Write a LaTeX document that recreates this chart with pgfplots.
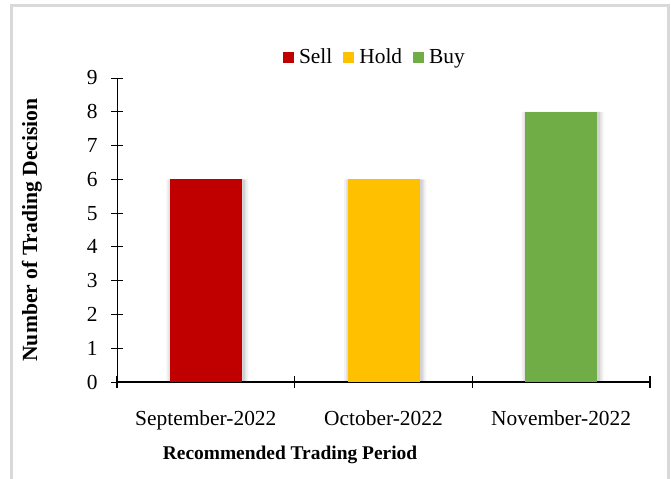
\documentclass[border=0pt]{standalone}
\usepackage{pgfplots}
\pgfplotsset{compat=1.18}
\usepackage{fontspec}
\setmainfont{Liberation Serif}
\definecolor{sellc}{HTML}{C00000}
\definecolor{holdc}{HTML}{FFC000}
\definecolor{buyc}{HTML}{70AD47}
\definecolor{framec}{HTML}{D9D9D9}
\begin{document}
\begin{tikzpicture}
\useasboundingbox (0,0) rectangle (671bp,-479bp);
\fill[white] (0,0) rectangle (671bp,-479bp);
\draw[framec, line width=3bp] (11bp,-479bp) -- (11bp,-5bp) -- (668bp,-5bp) -- (668bp,-479bp);
\begin{axis}[
  at={(117bp,-382bp)}, anchor=south west,
  scale only axis, width=533bp, height=304bp,
  xmin=0.5, xmax=3.5, ymin=0, ymax=9,
  axis x line=bottom, axis y line=left,
  x axis line style={-, line width=1.6bp},
  y axis line style={-, line width=1bp},
  ybar, bar width=72bp,
  ytick={0,1,2,3,4,5,6,7,8,9},
  xtick={0.5,1.5,2.5,3.5},
  xticklabels={September-2022,October-2022,November-2022,{}},
  xticklabel style={xshift=88.8bp, yshift=-19bp},
  yticklabel style={xshift=-10bp},
  tick align=center,
  major tick length=12bp,
  x tick style={line width=1.6bp, black},
  y tick style={line width=1bp, black},
  /pgf/number format/assume math mode=true,
  tick label style={font=\fontsize{21.5}{25}\selectfont},
  xlabel={Recommended Trading Period},
  ylabel={Number of Trading Decision},
  x label style={font=\fontsize{19.5}{23}\selectfont\bfseries, at={(rel axis cs:0.3246,0)}, anchor=center, yshift=-73bp},
  y label style={font=\fontsize{21.7}{25}\selectfont\bfseries, at={(rel axis cs:0,0.5)}, anchor=center, yshift=85bp},
  legend columns=-1,
  legend style={at={(rel axis cs:0.484,1.069)}, anchor=center, draw=none, fill=none,
    font=\fontsize{21.5}{25}\selectfont,
    /tikz/every odd column/.append style={column sep=3bp},
    /tikz/every even column/.append style={column sep=9bp}},
  legend image code/.code={\fill[#1] (0bp,-5.5bp) rectangle (11bp,5.5bp);},
]
% soft shadows (same values, drawn behind the bars)
\addplot[fill=black, fill opacity=0.05, draw=none, bar shift=1.5bp, bar width=82bp, forget plot] coordinates {(1,6) (2,6) (3,8)};
\addplot[fill=black, fill opacity=0.06, draw=none, bar shift=1.5bp, bar width=78bp, forget plot] coordinates {(1,6) (2,6) (3,8)};
\addplot[fill=black, fill opacity=0.07, draw=none, bar shift=1.5bp, bar width=75bp, forget plot] coordinates {(1,6) (2,6) (3,8)};
\addplot[fill=sellc, draw=none, bar shift=0pt] coordinates {(1,6)};
\addplot[fill=holdc, draw=none, bar shift=0pt] coordinates {(2,6)};
\addplot[fill=buyc, draw=none, bar shift=0pt] coordinates {(3,8)};
\legend{Sell,Hold,Buy}
\end{axis}
\end{tikzpicture}
\end{document}
